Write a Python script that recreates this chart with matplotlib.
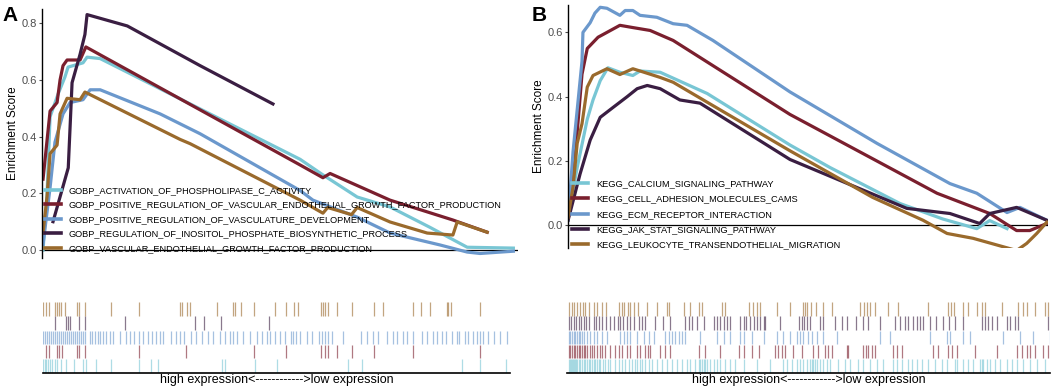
import matplotlib
matplotlib.use("Agg")
import matplotlib.pyplot as plt

# colours of the five gene sets (same order in both panels)
colors = ['#78C6D4', '#7A1F2E', '#6B98CC', '#3A1E42', '#9A6A2C']

# ---- panel A: GO biological process sets ----
go_names = ['GOBP_ACTIVATION_OF_PHOSPHOLIPASE_C_ACTIVITY',
            'GOBP_POSITIVE_REGULATION_OF_VASCULAR_ENDOTHELIAL_GROWTH_FACTOR_PRODUCTION',
            'GOBP_POSITIVE_REGULATION_OF_VASCULATURE_DEVELOPMENT',
            'GOBP_REGULATION_OF_INOSITOL_PHOSPHATE_BIOSYNTHETIC_PROCESS',
            'GOBP_VASCULAR_ENDOTHELIAL_GROWTH_FACTOR_PRODUCTION']
# running enrichment score, knots (rank fraction, ES)
go_x = [
    [0.002, 0.0105, 0.0168, 0.0336, 0.048, 0.0546, 0.086, 0.0945, 0.122, 0.542, 0.590, 0.662, 0.731, 0.815, 0.893, 0.990],
    [0.002, 0.0168, 0.0315, 0.0378, 0.044, 0.0525, 0.0798, 0.092, 0.542, 0.590, 0.605, 0.731, 0.863, 0.935],
    [0.002, 0.0168, 0.027, 0.044, 0.0588, 0.086, 0.101, 0.122, 0.248, 0.332, 0.542, 0.569, 0.662, 0.731, 0.836, 0.893, 0.920, 0.990],
    [0.023, 0.055, 0.063, 0.0798, 0.090, 0.0945, 0.179, 0.332, 0.485],
    [0.002, 0.0105, 0.0168, 0.0315, 0.0378, 0.0525, 0.0798, 0.090, 0.290, 0.311, 0.542, 0.590, 0.600, 0.650, 0.662, 0.731, 0.809, 0.863, 0.872, 0.935]]
go_y = [
    [0.00, 0.20, 0.47, 0.55, 0.61, 0.645, 0.66, 0.68, 0.675, 0.32, 0.265, 0.187, 0.152, 0.08, 0.01, 0.007],
    [0.25, 0.49, 0.52, 0.60, 0.65, 0.67, 0.67, 0.716, 0.30, 0.255, 0.27, 0.176, 0.106, 0.063],
    [0.02, 0.22, 0.38, 0.48, 0.52, 0.53, 0.565, 0.565, 0.48, 0.41, 0.21, 0.176, 0.116, 0.06, 0.018, -0.007, -0.012, -0.004],
    [0.10, 0.29, 0.59, 0.69, 0.76, 0.83, 0.79, 0.65, 0.515],
    [0.06, 0.19, 0.34, 0.37, 0.48, 0.535, 0.53, 0.557, 0.39, 0.375, 0.176, 0.13, 0.15, 0.125, 0.15, 0.099, 0.06, 0.053, 0.099, 0.063]]
# hit positions for the rug (pixel columns of a 3x crop)
go_hits_px = [
    [130, 135, 140, 145, 150, 158, 165, 172, 185, 200, 222, 250, 258, 290, 335, 418, 455, 475, 665, 675, 765, 830, 1045, 1085, 1385, 1440, 1518],
    [140, 148, 172, 178, 188, 232, 238, 255, 418, 558, 762, 858, 962, 975, 985, 1012, 1055, 1122, 1238, 1440],
    [130, 136, 142, 148, 154, 160, 166, 172, 178, 184, 190, 196, 202, 208, 214, 220, 226, 232, 238, 244, 250, 256,
     270, 278, 286, 294, 302, 310, 318, 330, 340, 360, 378, 390, 402, 418, 430, 445, 458, 468, 480, 490, 515, 530,
     542, 552, 575, 590, 605, 625, 640, 660, 675, 690, 700, 712, 730, 750, 770, 785, 800, 810, 825, 840, 855, 872,
     880, 888, 900, 920, 935, 958, 965, 975, 985, 995, 1030, 1082, 1100, 1118, 1135, 1162, 1178, 1192, 1210, 1222,
     1240, 1265, 1282, 1300, 1312, 1325, 1338, 1355, 1370, 1378, 1395, 1405, 1418, 1432, 1440, 1450, 1465, 1482, 1500, 1520],
    [165, 200, 205, 210, 237, 255, 375, 585, 612, 662, 808],
    [130, 140, 148, 165, 172, 178, 185, 195, 232, 238, 255, 333, 418, 540, 548, 562, 570, 652, 698, 705, 722, 762,
     825, 858, 882, 895, 962, 968, 975, 985, 1012, 1055, 1122, 1150, 1238, 1262, 1290, 1340, 1345, 1352, 1440]]

# ---- panel B: KEGG pathways ----
kegg_names = ['KEGG_CALCIUM_SIGNALING_PATHWAY',
              'KEGG_CELL_ADHESION_MOLECULES_CAMS',
              'KEGG_ECM_RECEPTOR_INTERACTION',
              'KEGG_JAK_STAT_SIGNALING_PATHWAY',
              'KEGG_LEUKOCYTE_TRANSENDOTHELIAL_MIGRATION']
kegg_x = [
    [0.0, 0.019, 0.040, 0.052, 0.067, 0.083, 0.108, 0.135, 0.150, 0.192, 0.290, 0.4625, 0.546, 0.692, 0.781, 0.852, 0.879, 0.915],
    [0.0, 0.019, 0.029, 0.040, 0.0625, 0.081, 0.108, 0.135, 0.171, 0.219, 0.4625, 0.644, 0.769, 0.879, 0.935, 0.9625, 0.998],
    [0.0, 0.0104, 0.029, 0.031, 0.046, 0.056, 0.067, 0.081, 0.108, 0.119, 0.135, 0.150, 0.185, 0.219, 0.248, 0.302, 0.4625, 0.644, 0.796, 0.852, 0.915, 0.942, 0.998],
    [0.0, 0.025, 0.046, 0.067, 0.094, 0.123, 0.144, 0.165, 0.192, 0.233, 0.275, 0.4625, 0.706, 0.796, 0.858, 0.879, 0.935, 0.998],
    [0.0, 0.0104, 0.019, 0.029, 0.040, 0.052, 0.081, 0.108, 0.135, 0.150, 0.192, 0.219, 0.4625, 0.635, 0.740, 0.790, 0.844, 0.935, 0.956, 0.977, 0.998]]
kegg_y = [
    [0.025, 0.18, 0.33, 0.39, 0.45, 0.49, 0.476, 0.466, 0.48, 0.476, 0.41, 0.25, 0.18, 0.068, 0.02, -0.01, 0.015, -0.01],
    [0.025, 0.29, 0.47, 0.55, 0.585, 0.60, 0.622, 0.615, 0.606, 0.575, 0.345, 0.20, 0.10, 0.037, -0.016, -0.016, 0.006],
    [0.016, 0.23, 0.51, 0.60, 0.63, 0.66, 0.678, 0.675, 0.653, 0.668, 0.668, 0.653, 0.647, 0.627, 0.622, 0.575, 0.415, 0.255, 0.13, 0.10, 0.04, 0.056, 0.016],
    [0.016, 0.16, 0.265, 0.336, 0.367, 0.40, 0.425, 0.435, 0.425, 0.39, 0.38, 0.205, 0.053, 0.037, 0.006, 0.037, 0.056, 0.016],
    [0.025, 0.12, 0.255, 0.316, 0.43, 0.466, 0.487, 0.469, 0.487, 0.48, 0.46, 0.445, 0.232, 0.087, 0.016, -0.025, -0.04, -0.078, -0.056, -0.025, 0.01]]
kegg_hits_px = [
    [115, 118, 121, 124, 127, 130, 133, 136, 140, 145, 150, 155, 160, 165, 170, 175, 180, 185, 190, 195, 200, 205, 210,
     218, 225, 232, 240, 255, 265, 275, 285, 295, 305, 315, 320, 328, 335, 345, 355, 365, 380, 395, 410, 425, 440, 455,
     470, 480, 495, 505, 510, 515, 520, 525, 530, 540, 550, 560, 570, 585, 600, 615, 640, 680, 720, 760, 770, 785, 800,
     810, 820, 830, 840, 845, 850, 855, 860, 870, 880, 890, 900, 925, 945, 960, 985, 1000, 1020, 1040, 1060, 1090, 1100,
     1115, 1135, 1145, 1160, 1175, 1195, 1215, 1235, 1250, 1275, 1280, 1300, 1315, 1330, 1350, 1355, 1360, 1370, 1380,
     1395, 1410, 1430, 1445, 1460, 1480, 1500, 1520, 1545],
    [115, 120, 125, 130, 135, 140, 145, 150, 155, 160, 165, 170, 178, 185, 192, 200, 208, 215, 225, 240, 255, 265, 275,
     290, 300, 320, 330, 345, 352, 360, 390, 405, 420, 505, 525, 570, 625, 640, 665, 685, 735, 745, 755, 765, 790, 815,
     850, 865, 885, 895, 905, 950, 955, 1000, 1008, 1015, 1025, 1035, 1090, 1100, 1115, 1210, 1225, 1255, 1265, 1280,
     1335, 1400, 1460, 1475, 1490, 1500, 1515, 1540, 1555],
    [115, 120, 125, 130, 135, 140, 145, 150, 155, 160, 170, 180, 190, 200, 215, 230, 270, 280, 290, 300, 320, 340, 355,
     370, 405, 415, 425, 435, 445, 455, 465, 510, 560, 580, 600, 630, 640, 665, 700, 740, 760, 780, 800, 810, 820, 835,
     845, 860, 880, 920, 1050, 1080, 1200, 1250, 1260, 1300, 1320, 1420, 1470, 1510, 1560],
    [115, 122, 130, 138, 145, 152, 160, 168, 175, 190, 198, 205, 215, 228, 240, 250, 262, 270, 278, 290, 300, 312, 325,
     335, 345, 375, 398, 420, 465, 475, 485, 500, 520, 550, 560, 568, 580, 590, 600, 630, 640, 648, 660, 670, 680, 690,
     700, 705, 750, 808, 815, 822, 830, 840, 870, 880, 915, 935, 950, 978, 1000, 1015, 1050, 1095, 1110, 1125, 1135,
     1150, 1160, 1170, 1180, 1200, 1218, 1240, 1258, 1275, 1300, 1355, 1365, 1375, 1385, 1400, 1430, 1440, 1455, 1465, 1555],
    [115, 125, 132, 140, 148, 158, 165, 175, 190, 200, 215, 228, 265, 275, 282, 292, 300, 312, 322, 350, 380, 410, 415,
     460, 478, 505, 515, 575, 585, 655, 668, 680, 690, 740, 780, 818, 825, 832, 842, 858, 878, 905, 990, 1002, 1010,
     1020, 1035, 1075, 1105, 1195, 1255, 1262, 1272, 1300, 1315, 1340, 1355, 1365, 1415, 1465, 1480, 1490, 1515, 1545, 1555]]

# convert rug pixel readings to rank fraction
go_hits = [[(p - 130) / 1400 for p in row] for row in go_hits_px]
kegg_hits = [[(p - 110) / 1450 for p in row] for row in kegg_hits_px]

plt.rcParams['font.family'] = ['Liberation Sans', 'DejaVu Sans']
fig = plt.figure(figsize=(10.52, 3.88), dpi=100)


def draw_es(ax, xs, ys, names, ylim, yticks, leg_anchor, leg_space, leg_size):
    for i in range(len(names)):
        ax.plot(xs[i], ys[i], color=colors[i], lw=2.3, label=names[i], solid_joinstyle='round')
    ax.axhline(0, color='black', lw=0.9, zorder=0)
    ax.set_xlim(0, 1)
    ax.set_ylim(*ylim)
    ax.set_yticks(yticks)
    ax.set_yticklabels(['%.1f' % t for t in yticks])
    ax.set_xticks([])
    for s in ['top', 'right', 'bottom']:
        ax.spines[s].set_visible(False)
    ax.spines['left'].set_linewidth(1.0)
    ax.tick_params(axis='y', labelsize=8, colors='#4D4D4D', length=2, width=0.8, pad=1.5)
    ax.set_ylabel('Enrichment Score', fontsize=8.5, labelpad=2)
    leg = ax.legend(loc='upper left', bbox_to_anchor=leg_anchor, frameon=False, fontsize=leg_size,
                    handlelength=1.7, handletextpad=0.9, labelspacing=leg_space, borderaxespad=0,
                    borderpad=0)
    for h in leg.get_lines():
        h.set_linewidth(2.6)


def draw_rug(ax, hits):
    n = len(hits)
    for i in range(n):
        # first set at the bottom, last set on top
        ax.vlines(hits[i], i + 0.02, i + 0.98, color=colors[i], lw=0.9, alpha=0.6)
    ax.set_xlim(0, 1)
    ax.set_ylim(0, n)
    ax.set_xticks([])
    ax.set_yticks([])
    for s in ['top', 'right', 'left']:
        ax.spines[s].set_visible(False)
    ax.spines['bottom'].set_linewidth(1.2)
    ax.set_xlabel('high expression<------------>low expression', fontsize=9, labelpad=0.5)


axA = fig.add_axes([0.040, 0.335, 0.4525, 0.642])
draw_es(axA, go_x, go_y, go_names, (-0.028, 0.85), [0.0, 0.2, 0.4, 0.6, 0.8], (0.006, 0.29), 0.6, 6.6)
axB = fig.add_axes([0.540, 0.361, 0.456, 0.626])
draw_es(axB, kegg_x, kegg_y, kegg_names, (-0.07, 0.685), [0.0, 0.2, 0.4, 0.6], (0.008, 0.283), 0.68, 6.7)

rugA = fig.add_axes([0.0409, 0.0387, 0.444, 0.183])
draw_rug(rugA, go_hits)
rugB = fig.add_axes([0.539, 0.0387, 0.459, 0.183])
draw_rug(rugB, kegg_hits)

fig.text(0.002, 0.985, 'A', fontsize=15, fontweight='bold', va='top', ha='left')
fig.text(0.505, 0.985, 'B', fontsize=15, fontweight='bold', va='top', ha='left')

fig.savefig('out.png', dpi=100)
